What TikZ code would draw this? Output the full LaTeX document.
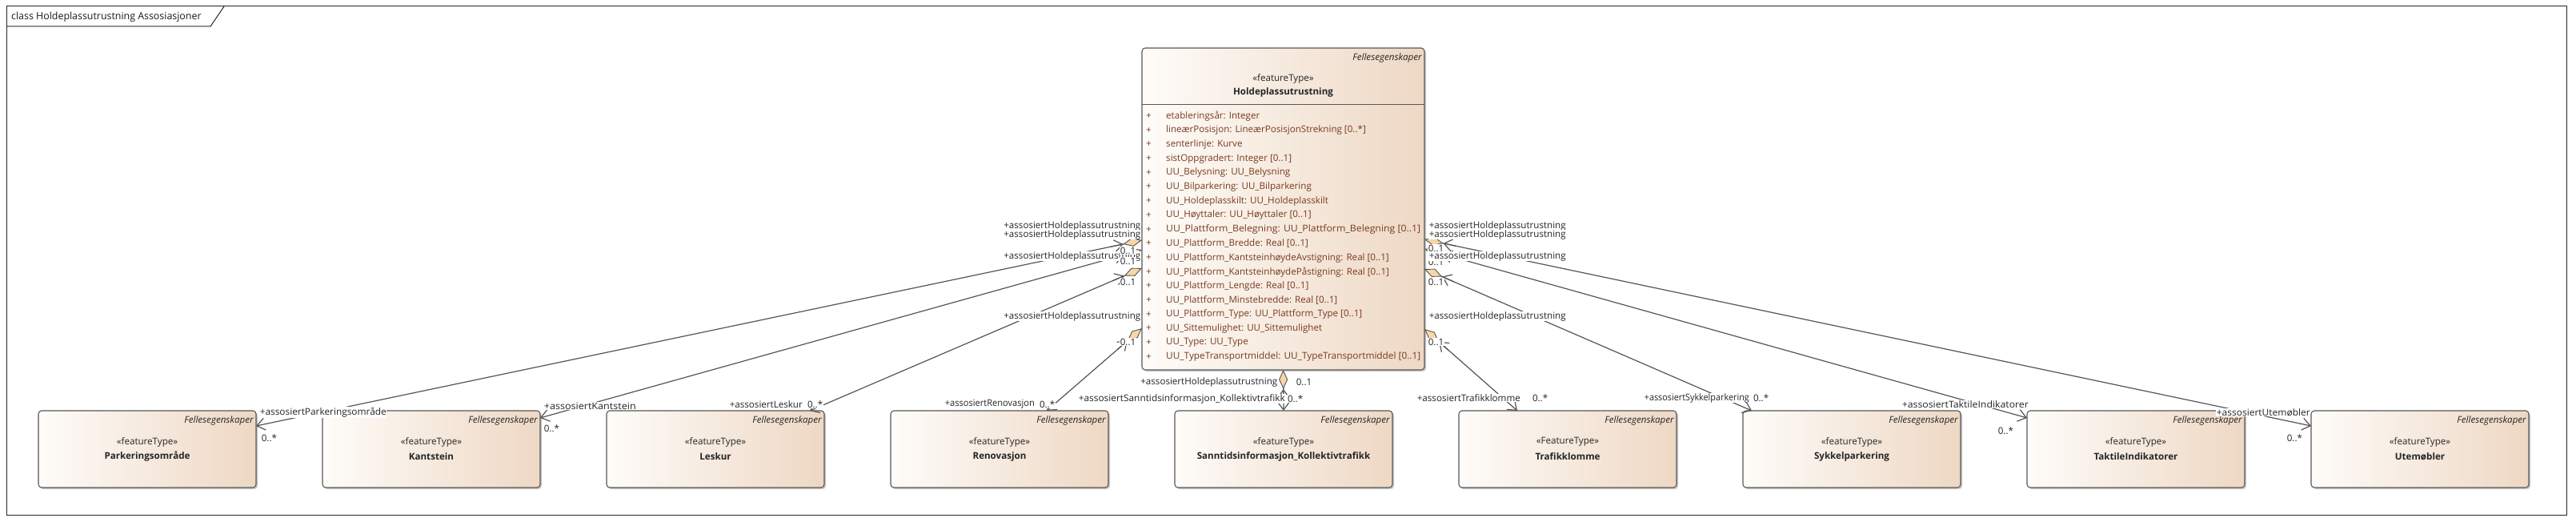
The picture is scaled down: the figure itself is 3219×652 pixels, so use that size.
\documentclass[tikz,border=0pt]{standalone}
\usepackage{fontspec}
\setmainfont{Open Sans}
\usetikzlibrary{arrows.meta,shadows,calc}
\definecolor{boxL}{RGB}{254,252,249}
\definecolor{boxR}{RGB}{238,216,196}
\definecolor{edgec}{RGB}{88,88,88}
\definecolor{attrc}{RGB}{120,58,30}
\definecolor{txtc}{RGB}{36,36,36}
\definecolor{peach}{RGB}{247,214,168}
\definecolor{linc}{RGB}{84,84,84}
\newcommand{\lblfont}{\fontsize{11.6}{13}\selectfont}
\newcommand{\fitw}[2]{\resizebox{#1pt}{\height}{#2}}
\tikzset{
  umlbox/.style={draw=edgec, line width=1.1pt, rounded corners=4pt, left color=boxL, right color=boxR,
     drop shadow={shadow xshift=2pt, shadow yshift=-2pt, opacity=0.3, fill=black!70},
     anchor=north west, inner sep=0pt, outer sep=0pt},
  smallbox/.style={umlbox, minimum width=272pt, minimum height=96pt},
  lbl/.style={font=\lblfont, text=txtc, fill=white, inner sep=0.6pt},
  intext/.style={font=\lblfont, text=txtc, inner sep=0pt},
  attr/.style={font=\lblfont, text=attrc, inner sep=0pt, anchor=west},
  assoc/.style={draw=linc, line width=1.2pt, arrows={Diamond[length=24pt,width=11pt,fill=peach,line width=0.9pt]-Straight Barb[length=10pt,width=15pt,line width=1.2pt]}},
  navtip/.style={draw=linc, line width=1.2pt, arrows={-Straight Barb[length=10pt,width=15pt,line width=1.2pt]}},
}
\begin{document}
\begin{tikzpicture}[x=1pt,y=-1pt]
\useasboundingbox (0,0) rectangle (3219,652);
% frame
\draw[black!85, line width=1pt] (8,8) rectangle (3207,643);
\draw[black!85, line width=1pt] (8,33) -- (263,33) -- (280,8);
\node[intext, anchor=west, font=\fontsize{12.4}{14}\selectfont, text=black!90] (title) at (14,21) {class Holdeplassutrustning Assosiasjoner};

% central box
\node[umlbox, minimum width=353pt, minimum height=402pt] (H) at (1427,60) {};
\draw[edgec, line width=1pt] (1427,131) -- (1780,131);
\node[intext, anchor=east, font=\lblfont\itshape] (Hf) at (1777,72) {Fellesegenskaper};
\node[intext] (Hs) at (1603.5,98) {«featureType»};
\node[intext, font=\lblfont\bfseries] (Hn) at (1603.5,115) {Holdeplassutrustning};
\foreach \t [count=\i from 0] in {
 {etableringsår: Integer},
 {lineærPosisjon: LineærPosisjonStrekning [0..*]},
 {senterlinje: Kurve},
 {sistOppgradert: Integer [0..1]},
 {UU\_Belysning: UU\_Belysning},
 {UU\_Bilparkering: UU\_Bilparkering},
 {UU\_Holdeplasskilt: UU\_Holdeplasskilt},
 {UU\_Høyttaler: UU\_Høyttaler [0..1]},
 {\fitw{318}{UU\_Plattform\_Belegning: UU\_Plattform\_Belegning [0..1]}},
 {UU\_Plattform\_Bredde: Real [0..1]},
 {UU\_Plattform\_KantsteinhøydeAvstigning: Real [0..1]},
 {UU\_Plattform\_KantsteinhøydePåstigning: Real [0..1]},
 {UU\_Plattform\_Lengde: Real [0..1]},
 {UU\_Plattform\_Minstebredde: Real [0..1]},
 {UU\_Plattform\_Type: UU\_Plattform\_Type [0..1]},
 {UU\_Sittemulighet: UU\_Sittemulighet},
 {UU\_Type: UU\_Type},
 {\fitw{318}{UU\_TypeTransportmiddel: UU\_TypeTransportmiddel [0..1]}}} {
  \node[attr] (p\i) at (1432,{145+17.7*\i}) {+};
  \node[attr] (a\i) at (1457,{145+17.7*\i}) {\t};
}

% bottom boxes
\foreach \i/\st/\nm in {0/featureType/Parkeringsområde, 1/featureType/Kantstein, 2/featureType/Leskur,
  3/featureType/Renovasjon, 4/featureType/Sanntidsinformasjon\_Kollektivtrafikk, 5/FeatureType/Trafikklomme,
  6/featureType/Sykkelparkering, 7/featureType/TaktileIndikatorer, 8/featureType/Utemøbler} {
  \node[smallbox] (b\i) at ({48+355*\i},513) {};
  \node[intext, anchor=east, font=\lblfont\itshape] (bf\i) at ({48+355*\i+269},525) {Fellesegenskaper};
  \node[intext] (bs\i) at ({48+355*\i+136},552) {«\st»};
  \node[intext, font=\lblfont\bfseries] (bn\i) at ({48+355*\i+136},570) {\nm};
}

% connector end points
\coordinate (s0) at ($(H.north west)+(0,240)$);
\coordinate (s1) at ($(H.north west)+(0,252)$);
\coordinate (s2) at ($(H.north west)+(0,275)$);
\coordinate (s3) at ($(H.north west)+(0,350)$);
\coordinate (s4) at (H.south);
\coordinate (s5) at ($(H.north east)+(0,351)$);
\coordinate (s6) at ($(H.north east)+(0,276)$);
\coordinate (s7) at ($(H.north east)+(0,251)$);
\coordinate (s8) at ($(H.north east)+(0,239)$);
\coordinate (e0) at ($(b0.north east)+(0,19)$);
\coordinate (e1) at ($(b1.north east)+(0,9)$);
\coordinate (e2) at ($(b2.north east)+(-18,0)$);
\coordinate (e3) at ($(b3.north east)+(-77,0)$);
\coordinate (e4) at (b4.north);
\coordinate (e5) at ($(b5.north west)+(73,0)$);
\coordinate (e6) at ($(b6.north west)+(11,0)$);
\coordinate (e7) at ($(b7.north west)+(0,9)$);
\coordinate (e8) at ($(b8.north west)+(0,19)$);
\foreach \k in {0,...,8} {
  \draw[assoc] (s\k) -- (e\k);
  \draw[navtip] ($(s\k)!40pt!(e\k)$) -- ($(s\k)!24pt!(e\k)$);
}

% labels at the central box, left side (roles first, then multiplicities)
\node[lbl, anchor=east] (rl0) at (1426,282) {+assosiertHoldeplassutrustning};
\node[lbl, anchor=east] (rl1) at (1426,293) {+assosiertHoldeplassutrustning};
\node[lbl, anchor=east] (rl2) at (1426,320) {+assosiertHoldeplassutrustning};
\node[lbl, anchor=east] (rl3) at (1426,395) {+assosiertHoldeplassutrustning};
\node[lbl, anchor=west] (ml0) at (1399,313) {0..1};
\node[lbl, anchor=west] (ml1) at (1399,326) {0..1};
\node[lbl, anchor=west] (ml2) at (1399,352) {0..1};
\node[lbl, anchor=west] (ml3) at (1399,427) {0..1};
% right side (multiplicities first, then roles)
\node[lbl, anchor=west] (mr0) at (1784,310) {0..1};
\node[lbl, anchor=west] (mr1) at (1784,327) {0..1};
\node[lbl, anchor=west] (mr2) at (1784,352) {0..1};
\node[lbl, anchor=west] (mr3) at (1784,427) {0..1};
\node[lbl, anchor=west] (rr0) at (1785,282) {+assosiertHoldeplassutrustning};
\node[lbl, anchor=west] (rr1) at (1785,293) {+assosiertHoldeplassutrustning};
\node[lbl, anchor=west] (rr2) at (1785,320) {+assosiertHoldeplassutrustning};
\node[lbl, anchor=west] (rr3) at (1785,395) {+assosiertHoldeplassutrustning};
% bottom centre
\node[lbl, anchor=east] (rc) at (1597,477) {+assosiertHoldeplassutrustning};
\node[lbl, anchor=west] (mc) at (1619,477) {0..1};

% labels at the bottom boxes
\node[lbl, anchor=west] (t0) at (324,515) {\fitw{158}{+assosiertParkeringsområde}};
\node[lbl, anchor=west] (u0) at (326,547) {0..*};
\node[lbl, anchor=west] (t1) at (679,507) {\fitw{115}{+assosiertKantstein}};
\node[lbl, anchor=west] (u1) at (679,535) {0..*};
\node[lbl, anchor=west] (t2) at (911,505) {\fitw{91}{+assosiertLeskur}};
\node[lbl, anchor=east] (u2) at (1029,505) {0..*};
\node[lbl, anchor=west] (t3) at (1180,505) {\fitw{112}{+assosiertRenovasjon}};
\node[lbl, anchor=east] (u3) at (1319,505) {0..*};
\node[lbl, anchor=west] (t4) at (1347,498) {\fitw{258}{+assosiertSanntidsinformasjon\_Kollektivtrafikk}};
\node[lbl, anchor=east] (u4) at (1629,498) {0..*};
\node[lbl, anchor=west] (t5) at (1770,497) {\fitw{129}{+assosiertTrafikklomme}};
\node[lbl, anchor=east] (u5) at (1935,497) {0..*};
\node[lbl, anchor=west] (t6) at (2054,497) {\fitw{131}{+assosiertSykkelparkering}};
\node[lbl, anchor=east] (u6) at (2211,497) {0..*};
\node[lbl, anchor=west] (t7) at (2376,505) {\fitw{158}{+assosiertTaktileIndikatorer}};
\node[lbl, anchor=west] (u7) at (2496,538) {0..*};
\node[lbl, anchor=west] (t8) at (2769,515) {\fitw{117}{+assosiertUtemøbler}};
\node[lbl, anchor=west] (u8) at (2857,547) {0..*};
\end{tikzpicture}
\end{document}
